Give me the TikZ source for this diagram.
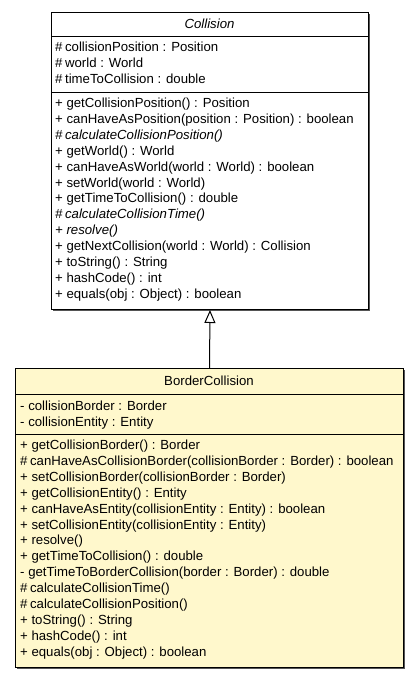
\documentclass[tikz,border=0pt]{standalone}
\usepackage{fontspec}
\setmainfont{Liberation Sans}
\usetikzlibrary{arrows.meta}
\definecolor{umlyellow}{RGB}{255,248,204}
\definecolor{shadowgray}{RGB}{85,85,85}
\newcommand{\prot}{\#\hspace{2.6pt}}
\begin{document}
\begin{tikzpicture}[x=1pt,y=1pt,
  classbox/.style={draw=black, line width=1pt, inner sep=0pt, anchor=north west},
  member/.style={anchor=base west, inner sep=0pt, font=\fontsize{13.2}{15}\selectfont},
  ctitle/.style={anchor=base, inner sep=0pt, font=\fontsize{13.2}{15}\selectfont},
  sepline/.style={line width=1pt},
  shadowfill/.style={fill=shadowgray}]
\useasboundingbox (0,0) rectangle (419,-677);
% shadows
\fill[shadowfill] (53,-14) rectangle (370,-311);
\fill[shadowfill] (17,-370) rectangle (405,-669);
% boxes
\node[classbox, fill=white, minimum width=317pt, minimum height=297pt] (coll) at (51,-12) {};
\node[classbox, fill=umlyellow, minimum width=388pt, minimum height=299pt] (bc) at (15,-368) {};
% separators
\coordinate (cs1) at (51,-37);
\coordinate (cs2) at (51,-92);
\coordinate (bs1) at (15,-394);
\coordinate (bs2) at (15,-434);
\draw[sepline] (cs1) -- ++(317,0);
\draw[sepline] (cs2) -- ++(317,0);
\draw[sepline] (bs1) -- ++(388,0);
\draw[sepline] (bs2) -- ++(388,0);
% titles
\node[ctitle] (ct) at (209.5,-29) {\itshape Collision};
\node[ctitle] (bt) at (209,-385.5) {BorderCollision};
% Collision attributes
\foreach \t [count=\i from 0] in {\prot collisionPosition : Position, \prot world : World, \prot timeToCollision : double}
  \node[member] (ca\i) at (55,-52-15.9*\i) {\t};
% Collision methods
\foreach \t [count=\i from 0] in {
  + getCollisionPosition() : Position,
  + canHaveAsPosition(position : Position) : boolean,
  \textit{\prot calculateCollisionPosition()},
  + getWorld() : World,
  + canHaveAsWorld(world : World) : boolean,
  + setWorld(world : World),
  + getTimeToCollision() : double,
  \textit{\prot calculateCollisionTime()},
  \textit{+ resolve()},
  + getNextCollision(world : World) : Collision,
  + toString() : String,
  + hashCode() : int,
  + equals(obj : Object) : boolean}
  \node[member] (cm\i) at (55,-107.5-15.9*\i) {\t};
% BorderCollision attributes
\foreach \t [count=\i from 0] in {- collisionBorder : Border, - collisionEntity : Entity}
  \node[member] (ba\i) at (20,-410.5-15.9*\i) {\t};
% BorderCollision methods
\foreach \t [count=\i from 0] in {
  + getCollisionBorder() : Border,
  \prot canHaveAsCollisionBorder(collisionBorder : Border) : boolean,
  + setCollisionBorder(collisionBorder : Border),
  + getCollisionEntity() : Entity,
  + canHaveAsEntity(collisionEntity : Entity) : boolean,
  + setCollisionEntity(collisionEntity : Entity),
  + resolve(),
  + getTimeToCollision() : double,
  - getTimeToBorderCollision(border : Border) : double,
  \prot calculateCollisionTime(),
  \prot calculateCollisionPosition(),
  + toString() : String,
  + hashCode() : int,
  + equals(obj : Object) : boolean}
  \node[member] (bm\i) at (20,-449.5-15.9*\i) {\t};
% generalization
\draw[line width=1pt, -{Triangle[open, fill=white, length=13pt, width=11pt]}] (bc.north) -- (coll.south);
\end{tikzpicture}
\end{document}
